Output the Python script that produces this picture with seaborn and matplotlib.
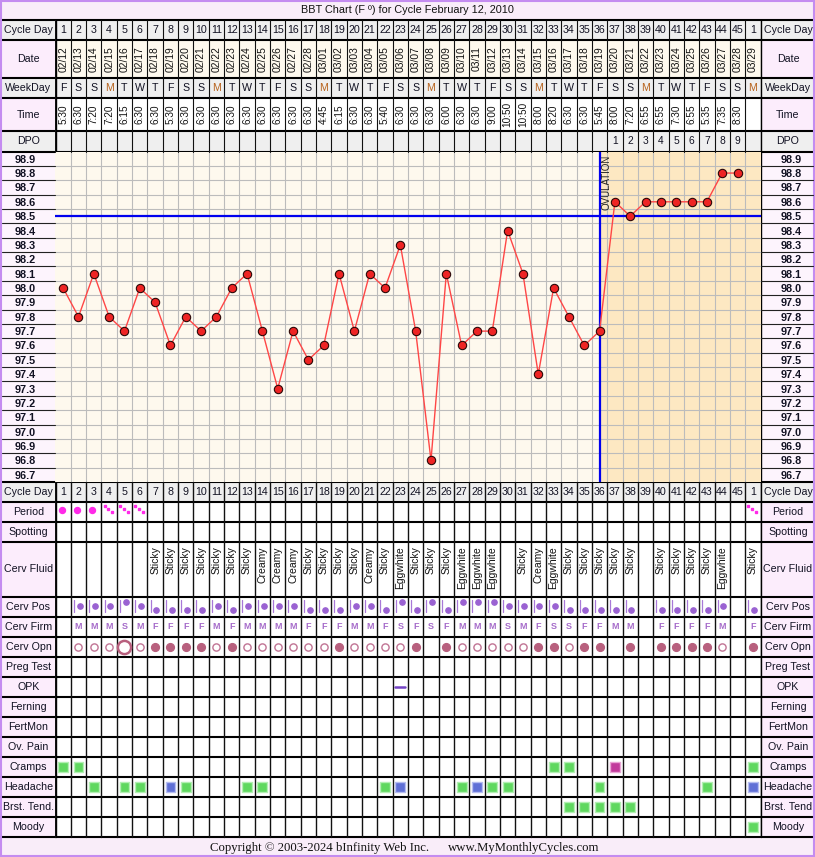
import matplotlib
matplotlib.use('Agg')
import matplotlib.pyplot as plt
import seaborn as sns
import numpy as np
import pandas as pd
from matplotlib.patches import Rectangle

sns.set_theme(style='white')
plt.rcParams['font.family'] = ['Liberation Sans', 'DejaVu Sans']

# ---------------- data ----------------
cycle_days = [str(d) for d in range(1, 46)] + ['1']
dates = ['02/12', '02/13', '02/14', '02/15', '02/16', '02/17', '02/18', '02/19', '02/20',
         '02/21', '02/22', '02/23', '02/24', '02/25', '02/26', '02/27', '02/28', '03/01',
         '03/02', '03/03', '03/04', '03/05', '03/06', '03/07', '03/08', '03/09', '03/10',
         '03/11', '03/12', '03/13', '03/14', '03/15', '03/16', '03/17', '03/18', '03/19',
         '03/20', '03/21', '03/22', '03/23', '03/24', '03/25', '03/26', '03/27', '03/28',
         '03/29']
weekdays = list('FSSMTWTFSSMTWTFSSMTWTFSSMTWTFSSMTWTFSSMTWTFSSM')
times = ['5:30', '6:30', '7:20', '7:20', '6:15', '6:30', '6:30', '5:30', '6:30', '6:30',
         '6:30', '6:30', '6:30', '6:30', '6:30', '6:30', '6:30', '4:45', '6:15', '6:30',
         '6:30', '5:40', '6:30', '6:30', '6:30', '6:00', '6:30', '6:30', '9:00', '10:50',
         '10:50', '8:00', '8:20', '6:30', '6:30', '5:45', '8:00', '7:20', '6:55', '6:55',
         '7:30', '6:55', '5:35', '7:35', '8:30', '']
dpo = [''] * 36 + ['1', '2', '3', '4', '5', '6', '7', '8', '9', '']
temps = [98.0, 97.8, 98.1, 97.8, 97.7, 98.0, 97.9, 97.6, 97.8, 97.7,
         97.8, 98.0, 98.1, 97.7, 97.3, 97.7, 97.5, 97.6, 98.1, 97.7,
         98.1, 98.0, 98.3, 97.7, 96.8, 98.1, 97.6, 97.7, 97.7, 98.4,
         98.1, 97.4, 98.0, 97.8, 97.6, 97.7, 98.6, 98.5, 98.6, 98.6,
         98.6, 98.6, 98.6, 98.8, 98.8]
temp_ticks = [98.9, 98.8, 98.7, 98.6, 98.5, 98.4, 98.3, 98.2, 98.1, 98.0, 97.9, 97.8,
              97.7, 97.6, 97.5, 97.4, 97.3, 97.2, 97.1, 97.0, 96.9, 96.8, 96.7]
coverline = 98.5
ovulation_day = 36

period = ['H', 'H', 'H', 'L', 'L', 'L'] + [''] * 39 + ['L']
cerv_fluid = ['', '', '', '', '', '', 'Sticky', 'Sticky', 'Sticky', 'Sticky', 'Sticky',
              'Sticky', 'Sticky', 'Creamy', 'Creamy', 'Creamy', 'Sticky', 'Sticky', 'Sticky',
              'Sticky', 'Creamy', 'Sticky', 'Eggwhite', 'Sticky', 'Sticky', 'Sticky',
              'Eggwhite', 'Eggwhite', 'Eggwhite', '', 'Sticky', 'Creamy', 'Eggwhite',
              'Sticky', 'Sticky', 'Sticky', 'Sticky', 'Sticky', '', 'Sticky', 'Sticky',
              'Sticky', 'Sticky', 'Eggwhite', '', 'Sticky']
cerv_pos = ['', 'M', 'M', 'M', 'H', 'M', 'L', 'L', 'L', 'L', 'M', 'L', 'M', 'M', 'M', 'M',
            'L', 'L', 'L', 'M', 'M', 'L', 'H', 'L', 'H', 'L', 'H', 'H', 'H', 'M', 'M', 'M',
            'M', 'L', 'L', 'L', 'L', 'L', '', 'L', 'L', 'L', 'L', 'M', '', 'L']
cerv_firm = ['', 'M', 'M', 'M', 'S', 'M', 'F', 'F', 'F', 'F', 'M', 'F', 'M', 'M', 'M', 'M',
             'F', 'F', 'F', 'M', 'M', 'F', 'S', 'F', 'S', 'F', 'M', 'M', 'M', 'S', 'M', 'F',
             'S', 'S', 'F', 'F', 'M', 'M', '', 'F', 'F', 'F', 'F', 'M', '', 'F']
cerv_opn = ['', 'o', 'o', 'o', 'O', 'o', 'c', 'c', 'c', 'c', 'o', 'c', 'o', 'o', 'o', 'o',
            'o', 'o', 'c', 'o', 'o', 'o', 'o', 'c', '', 'c', 'o', 'o', 'o', 'o', 'o', 'c',
            'c', 'o', 'c', 'c', '', 'c', '', 'c', 'c', 'c', 'c', 'o', '', 'c']
opk_cols = [23]
cramps_cols = [1, 2, 33, 34, 37, 46]
cramps_kind = ['g', 'g', 'g', 'g', 'm', 'g']
headache_cols = [3, 5, 6, 8, 9, 13, 14, 22, 23, 27, 28, 29, 30, 36, 43, 46]
headache_kind = ['g', 'g', 'g', 'b', 'g', 'g', 'g', 'g', 'b', 'g', 'b', 'g', 'g', 'g', 'g', 'b']
brst_cols = [34, 35, 36, 37, 38]
brst_kind = ['g', 'g', 'g', 'g', 'g']
moody_cols = [46]
moody_kind = ['g']

# ---------------- layout ----------------
W, H = 815, 857
LEFT, RIGHT = 55.5, 760.5
T_TOP, T_BOT = 151.5, 482.0
GRAY, PINK, CREAM, BAR = '#efefef', '#fcedfc', '#fef9ee', '#f9edf9'
sym_face = {'g': '#5fd85f', 'b': '#6070d6', 'm': '#c23a9c'}
sym_edge = {'g': '#b2efb2', 'b': '#b4bcf0', 'm': '#eaa4d6'}

top_rows = [('Cycle Day', 20.0, 40.0, GRAY, GRAY),
            ('Date', 40.0, 77.5, CREAM, PINK),
            ('WeekDay', 77.5, 97.7, GRAY, GRAY),
            ('Time', 97.7, 131.3, 'white', PINK),
            ('DPO', 131.3, T_TOP, GRAY, GRAY)]
bottom_names = ['Cycle Day', 'Period', 'Spotting', 'Cerv Fluid', 'Cerv Pos', 'Cerv Firm',
                'Cerv Opn', 'Preg Test', 'OPK', 'Ferning', 'FertMon', 'Ov. Pain', 'Cramps',
                'Headache', 'Brst. Tend.', 'Moody']
bottom_edges = [T_BOT, 501.7, 521.7, 541.7] + [596.7 + 20 * k for k in range(13)]
bottom_rows = []
for i, name in enumerate(bottom_names):
    bottom_rows.append((name, bottom_edges[i], bottom_edges[i + 1],
                        GRAY if i == 0 else 'white', GRAY if i == 0 else PINK))
rc = {name: (y0 + y1) / 2 for name, y0, y1, _, _ in bottom_rows}

fig = plt.figure(figsize=(W / 100, H / 100), dpi=100)
ax_bg = fig.add_axes([0, 0, 1, 1])
ax_bg.set_xlim(0, W)
ax_bg.set_ylim(H, 0)
ax_bg.axis('off')

ax_bg.add_patch(Rectangle((0, 0), W, H, facecolor='white', edgecolor='none'))
ax_bg.add_patch(Rectangle((0, 0), W, 20, facecolor=BAR, edgecolor='none'))
ax_bg.add_patch(Rectangle((0, bottom_edges[-1]), W, H - bottom_edges[-1], facecolor=BAR, edgecolor='none'))
ax_bg.add_patch(Rectangle((2, T_TOP), LEFT - 2, T_BOT - T_TOP, facecolor='#fdf4fd', edgecolor='none'))
ax_bg.add_patch(Rectangle((RIGHT, T_TOP), 813 - RIGHT, T_BOT - T_TOP, facecolor='#fdf4fd', edgecolor='none'))

for name, y0, y1, cell_bg, lab_bg in top_rows + bottom_rows:
    ax_bg.add_patch(Rectangle((LEFT, y0), RIGHT - LEFT, y1 - y0, facecolor=cell_bg, edgecolor='none'))
    ax_bg.add_patch(Rectangle((2, y0), LEFT - 2, y1 - y0, facecolor=lab_bg, edgecolor='none'))
    ax_bg.add_patch(Rectangle((RIGHT, y0), 813 - RIGHT, y1 - y0, facecolor=lab_bg, edgecolor='none'))
    ax_bg.text(28.5, (y0 + y1) / 2, name, ha='center', va='center', fontsize=7.7, color='#111122')
    ax_bg.text(788, (y0 + y1) / 2, name.rstrip('.') if name == 'Brst. Tend.' else name,
               ha='center', va='center', fontsize=7.7, color='#111122')

ax_bg.text(407.5, 10, 'BBT Chart (F º) for Cycle February 12, 2010', ha='center', va='center',
           fontsize=7.8, color='#111111')
ax_bg.text(210, 847.5, 'Copyright © 2003-2024 bInfinity Web Inc.', ha='left', va='center',
           fontsize=9.2, family=['Liberation Serif', 'DejaVu Serif'], color='#111111')
ax_bg.text(448, 847.5, 'www.MyMonthlyCycles.com', ha='left', va='center',
           fontsize=9.2, family=['Liberation Serif', 'DejaVu Serif'], color='#111111')

# ---------------- temperature chart ----------------
ax_t = fig.add_axes([LEFT / W, 1 - T_BOT / H, (RIGHT - LEFT) / W, (T_BOT - T_TOP) / H])
ax_t.set_facecolor(CREAM)
ax_t.axvspan(ovulation_day, len(cycle_days) + 0.5, color='#fde8c2', lw=0, zorder=0.5)
for xb in np.arange(1.5, len(cycle_days)):
    ax_t.axvline(xb, color='#bcbcbc', lw=0.8, zorder=1)
for yb in np.arange(96.75, 98.9, 0.1):
    ax_t.axhline(yb, color='#bcbcbc', lw=0.8, zorder=1)
    ax_t.plot([-2.99, 0.5], [yb, yb], color='#222222', lw=0.8, clip_on=False)
    ax_t.plot([46.5, 49.93], [yb, yb], color='#222222', lw=0.8, clip_on=False)

temp_df = pd.DataFrame({'day': np.arange(1, len(temps) + 1), 'temp': temps})
sns.lineplot(data=temp_df, x='day', y='temp', ax=ax_t, color='#ff4646', lw=1.0,
             marker='o', markersize=6, markerfacecolor='#ee2424',
             markeredgecolor='#2a0808', markeredgewidth=0.8, zorder=5)
ax_t.axhline(coverline, color='#0000ee', lw=1.6, zorder=3)
ax_t.axvline(ovulation_day, color='#0000ee', lw=1.6, zorder=3)
ax_t.text(ovulation_day + 0.13, 98.93, 'OVULATION', rotation=90, ha='left', va='top',
          fontsize=7.0, color='#222222', zorder=4)

ax_t.set_xlim(0.5, len(cycle_days) + 0.5)
ax_t.set_ylim(96.65, 98.95)
ax_t.set_xticks([])
ax_t.set_yticks(temp_ticks)
ax_t.set_yticklabels([f'{t:.1f}' for t in temp_ticks])
ax_t.tick_params(axis='y', left=False, right=False, labelleft=True, labelright=True,
                 pad=8.4, labelsize=7.8, labelcolor='#111122')
for tk in ax_t.yaxis.get_major_ticks():
    tk.label1.set_fontweight('bold')
    tk.label2.set_fontweight('bold')
ax_t.set_xlabel('')
ax_t.set_ylabel('')
for s in ax_t.spines.values():
    s.set_visible(False)

# ---------------- table grid / texts ----------------
ax_g = fig.add_axes([LEFT / W, 0, (RIGHT - LEFT) / W, 1])
ax_g.set_xlim(0.5, len(cycle_days) + 0.5)
ax_g.set_ylim(H, 0)
ax_g.axis('off')
cols = np.arange(1, len(cycle_days) + 1)

for xb in np.arange(0.5, len(cycle_days) + 1):
    ax_g.plot([xb, xb], [20, T_TOP], color='#111111', lw=0.8)
    ax_g.plot([xb, xb], [T_BOT, bottom_edges[-1]], color='#111111', lw=1.0)

for c in cols:
    i = c - 1
    ax_g.text(c, 30, cycle_days[i], ha='center', va='center', fontsize=7.7, color='#111122')
    ax_g.text(c, rc['Cycle Day'], cycle_days[i], ha='center', va='center', fontsize=7.7, color='#111122')
    ax_g.text(c, 59, dates[i], ha='center', va='center', rotation=90, fontsize=7.4, color='#111111')
    ax_g.text(c, 87.6, weekdays[i], ha='center', va='center', fontsize=7.7,
              color='#b8641e' if weekdays[i] == 'M' else '#111122')
    if times[i]:
        ax_g.text(c, 114.5, times[i], ha='center', va='center', rotation=90, fontsize=7.2, color='#111111')
    if dpo[i]:
        ax_g.text(c, 141.4, dpo[i], ha='center', va='center', fontsize=7.4, color='#111122')
    if cerv_fluid[i]:
        ax_g.text(c, 546.5, cerv_fluid[i], ha='center', va='top', rotation=90, fontsize=7.5, color='#111111')
    if cerv_firm[i]:
        ax_g.text(c, rc['Cerv Firm'], cerv_firm[i], ha='center', va='center', fontsize=6.5,
                  fontweight='bold', color='#a66cca')

# period
y_p = rc['Period']
for c, p in zip(cols, period):
    if p == 'H':
        ax_g.plot(c - 0.1, y_p - 2, 'o', ms=4.3, color='#ff2ae8', mec='#ff2ae8')
    elif p == 'L':
        ax_g.plot([c - 0.3, c - 0.05, c + 0.2], [y_p - 6, y_p - 3, y_p + 0.5], 's', ms=1.8,
                  color='#ff2ae8', lw=0)

# cervical position
y_cp = rc['Cerv Pos']
dot_off = {'H': -4.5, 'M': -0.5, 'L': 3.5}
for c, p in zip(cols, cerv_pos):
    if p:
        ax_g.plot([c - 0.3, c - 0.3], [y_cp - 6.5, y_cp + 5.5], color='#a878d8', lw=0.9)
        ax_g.plot(c + 0.08, y_cp + dot_off[p], 'o', ms=3.8, color='#9a62d2')

# cervical opening
y_co = rc['Cerv Opn']
for c, p in zip(cols, cerv_opn):
    if p == 'o':
        ax_g.plot(c, y_co, 'o', ms=5.2, mfc='white', mec='#c07494', mew=1.0)
    elif p == 'O':
        ax_g.plot(c, y_co, 'o', ms=9.5, mfc='white', mec='#b8607e', mew=1.8)
    elif p == 'c':
        ax_g.plot(c, y_co, 'o', ms=5.6, color='#b8607e')

# OPK
for c in opk_cols:
    ax_g.plot([c - 0.32, c + 0.32], [rc['OPK'], rc['OPK']], color='#7444c4', lw=1.8)

# symptoms
for row, cs, kinds in [('Cramps', cramps_cols, cramps_kind),
                       ('Headache', headache_cols, headache_kind),
                       ('Brst. Tend.', brst_cols, brst_kind),
                       ('Moody', moody_cols, moody_kind)]:
    ax_g.scatter(cs, [rc[row]] * len(cs), marker='s', s=50,
                 c=[sym_face[k] for k in kinds], edgecolors=[sym_edge[k] for k in kinds],
                 linewidths=1.0, zorder=4)

# thick row separators, label column borders and outer frame
for yb in [20, 40, 77.5, 97.7, 131.3, T_TOP] + bottom_edges:
    ax_bg.plot([2, 813], [yb, yb], color='#000000', lw=1.5, zorder=10)
for xb in [LEFT, RIGHT]:
    ax_bg.plot([xb, xb], [20, bottom_edges[-1]], color='#000000', lw=1.0, zorder=10)
ax_bg.add_patch(Rectangle((1, 1), W - 2, H - 2, facecolor='none', edgecolor='#c48cf0', lw=1.5, zorder=11))

fig.savefig('out.png', dpi=100)
